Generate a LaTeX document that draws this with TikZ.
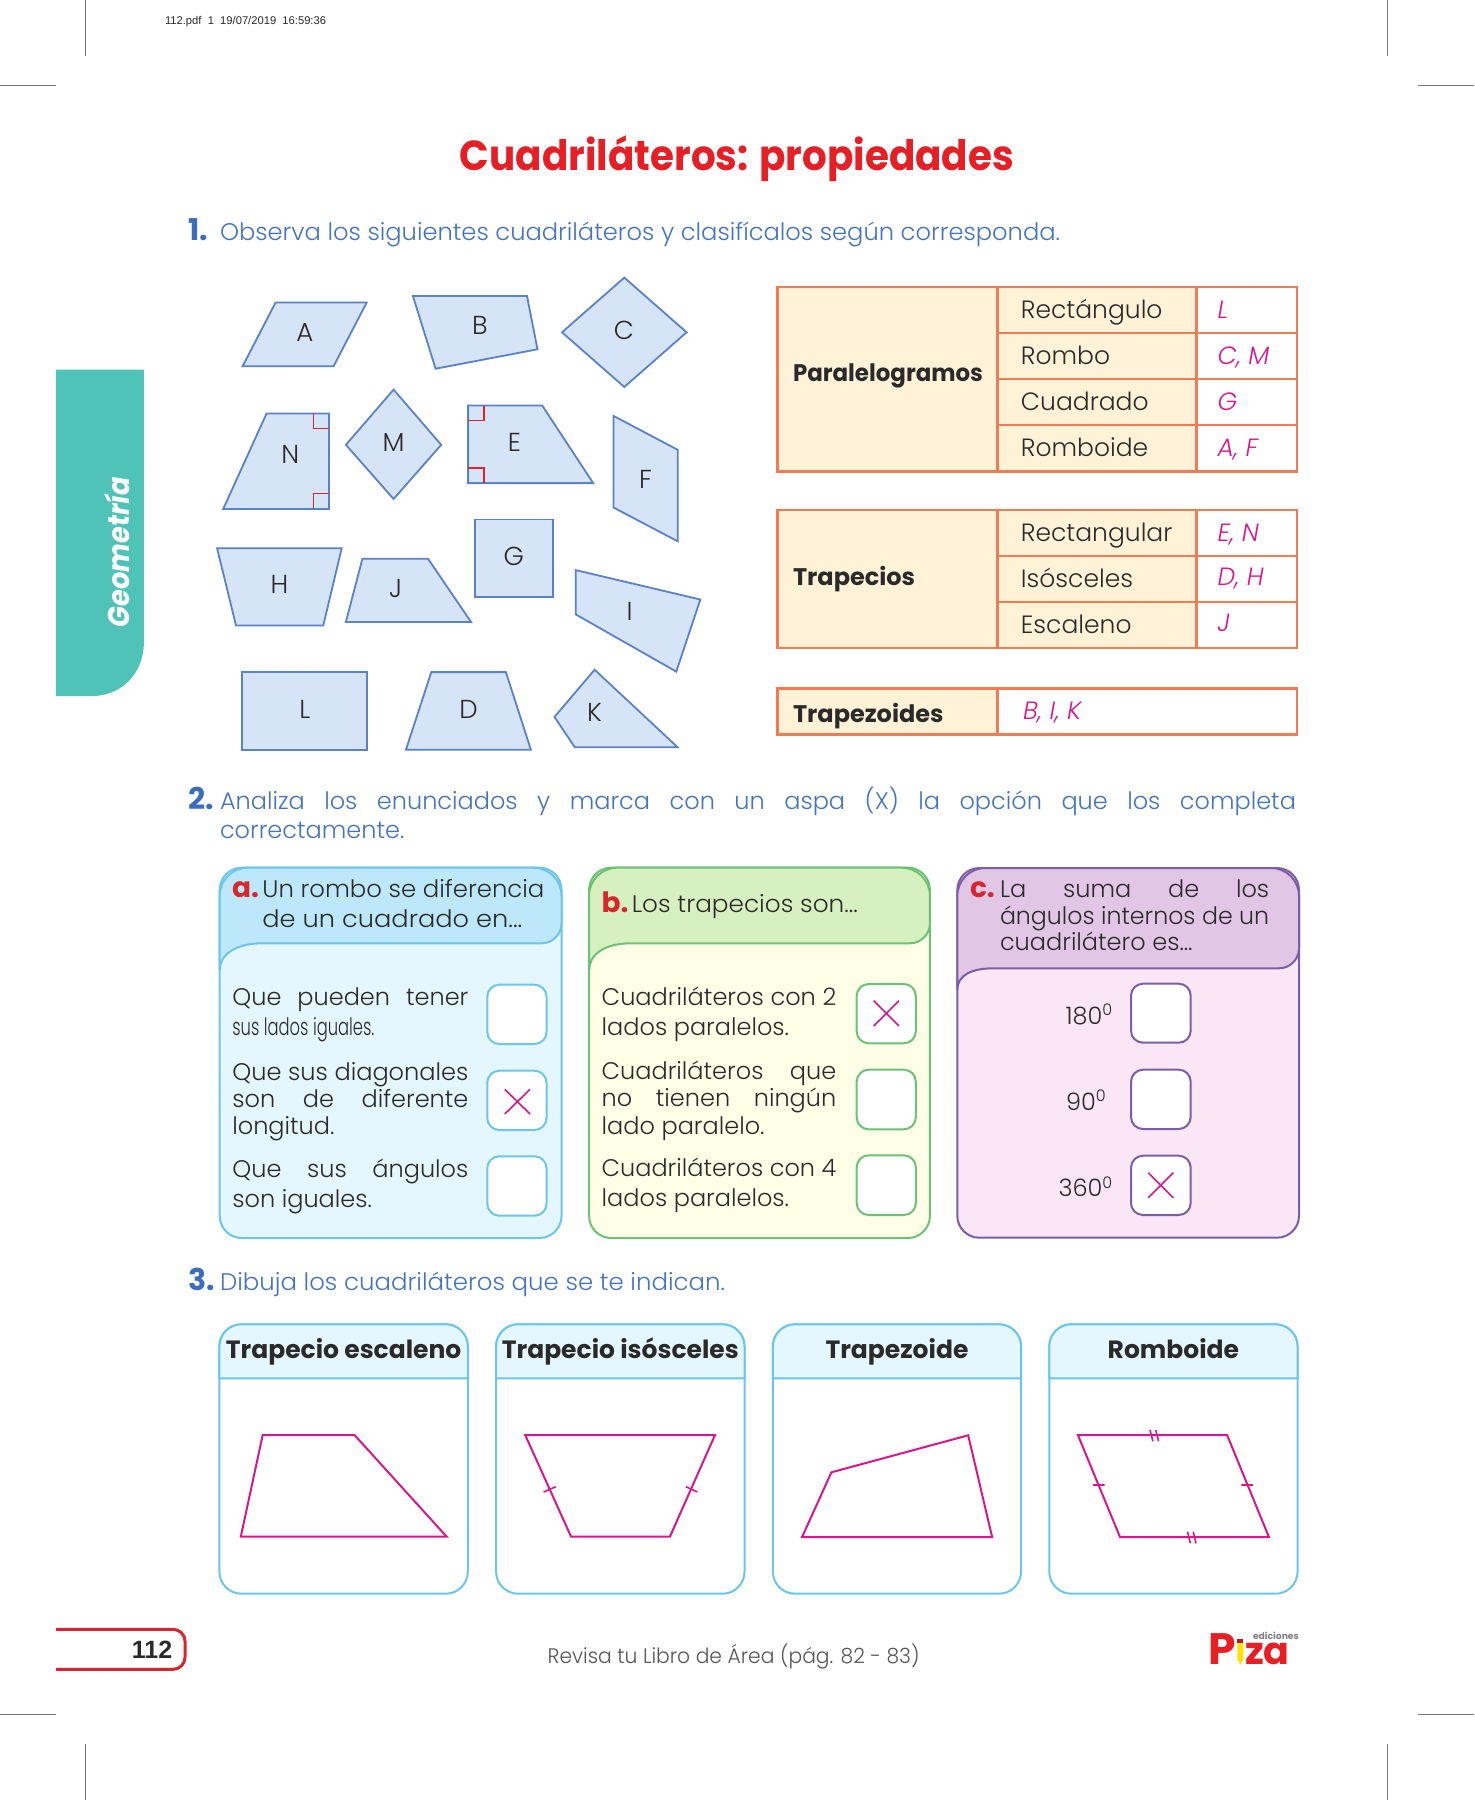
\documentclass[tikz,border=0pt]{standalone}
\usepackage{fontspec}
\usepackage{graphicx}
\setmainfont{Poppins}
\newfontfamily\lt{Poppins Light}[ItalicFont={Poppins Light Italic}]
\newfontfamily\arl{Liberation Sans}
\newcommand{\fs}[1]{\fontsize{#1}{#1}\selectfont}
\newcommand{\fit}[2]{\resizebox{#1pt}{\height}{#2}}
\newcommand{\jb}[2]{\hbox to #1pt{#2}}
\definecolor{teal1}{HTML}{4FC3B8}
\definecolor{shf}{HTML}{D5E4F6}
\definecolor{shd}{HTML}{5B82C4}
\definecolor{redc}{HTML}{D9262E}
\definecolor{titlec}{HTML}{E81E25}
\definecolor{bluet}{HTML}{4474BC}
\definecolor{blueb}{HTML}{3A6EB9}
\definecolor{tabs}{HTML}{EE7D55}
\definecolor{tabf}{HTML}{FFF2D6}
\definecolor{mag}{HTML}{D6188C}
\definecolor{ast}{HTML}{6CC6E8}
\definecolor{ah}{HTML}{BDE8FB}
\definecolor{ab}{HTML}{E4F6FE}
\definecolor{bst}{HTML}{6CC175}
\definecolor{bh}{HTML}{D6F0C0}
\definecolor{bb}{HTML}{FEFFE6}
\definecolor{cst}{HTML}{7B5EA7}
\definecolor{ch}{HTML}{E2C6E6}
\definecolor{cb}{HTML}{FBE6F5}
\definecolor{ink}{HTML}{2A2A2A}
\definecolor{cropc}{HTML}{777777}
\tikzset{
 tx/.style={inner sep=0pt,outer sep=0pt,anchor=base west},
 txc/.style={inner sep=0pt,outer sep=0pt,anchor=base},
 txr/.style={inner sep=0pt,outer sep=0pt,anchor=base east},
 quad/.style={fill=shf,draw=shd,line width=0.9pt,line join=miter},
 redsq/.style={draw=redc,line width=0.8pt},
 let/.style={inner sep=0pt,outer sep=0pt,anchor=center,font=\lt\fs{13},text=ink},
 tabl/.style={draw=tabs,line width=1.1pt},
 ans/.style={tx,font=\lt\itshape\fs{12.5},text=mag},
 row/.style={tx,font=\lt\fs{12.5},text=ink},
 head/.style={tx,font=\bfseries\fs{12},text=ink},
 body/.style={tx,font=\lt\fs{12},text=ink},
 xm/.style={draw=mag,line width=0.8pt},
 draft/.style={draw=mag,line width=1pt,line join=miter},
 card/.style={draw=ast,line width=1pt},
 crop/.style={draw=cropc,line width=0.4pt},
}
\begin{document}
\begin{tikzpicture}[x=0.5pt,y=-0.5pt]
\useasboundingbox (0,0) rectangle (1474,1800);
\fill[white] (0,0) rectangle (1474,1800);
% crop marks
\draw[crop] (85.4,0)--(85.4,56) (1387,0)--(1387,56) (0,85.6)--(56,85.6) (1418,85.6)--(1474,85.6)
 (0,1714)--(56,1714) (1418,1714)--(1474,1714) (85.4,1744)--(85.4,1800) (1387,1744)--(1387,1800);
\node[tx,font=\arl\fs{5.6},text=ink] (slug) at (165,24) {112.pdf\ \ 1\ \ 19/07/2019\ \ 16:59:36};
% title
\node[txc,font=\bfseries\fs{21},text=titlec] (title) at (737,170.6) {\fit{277}{Cuadriláteros: propiedades}};
% tab
\fill[teal1] (56.2,369.6) -- (143.9,369.6) -- (143.9,641.8) .. controls (143.9,675) and (120,696) .. (92,696) -- (56.2,696) -- cycle;
\node[inner sep=0pt,rotate=90,anchor=center,font=\bfseries\itshape\fs{15},text=white] (tabt) at (117,552) {\fit{75}{Geometría}};
% Q1
\node[tx,font=\bfseries\fs{15},text=blueb] (n1) at (188,240) {1.};
\node[tx,font=\lt\fs{12},text=bluet] (q1) at (220,240) {\fit{420}{Observa los siguientes cuadriláteros y clasifícalos según corresponda.}};
% quadrilaterals
\draw[quad] (275.6,302.5)--(366.7,302.5)--(333.6,366.2)--(242.6,366.2)--cycle;
\draw[quad] (412.9,296)--(527,296)--(537.5,349.3)--(435.6,368.7)--cycle;
\draw[quad] (624.3,277.6)--(686.6,332.3)--(624.3,387)--(562,332.3)--cycle;
\draw[quad] (266.6,413.4)--(328.9,413.4)--(328.9,509)--(223.2,509)--cycle;
\draw[redsq] (328.9,428.4)--(313.4,428.4)--(313.4,413.4) (328.9,493.5)--(313.4,493.5)--(313.4,509);
\draw[quad] (393.6,389.6)--(441.2,444.8)--(393.6,499)--(345.9,444.8)--cycle;
\draw[quad] (468.1,405.5)--(542.2,405.5)--(593.2,483.1)--(468.1,483.1)--cycle;
\draw[redsq] (468.1,420.4)--(483.7,420.4)--(483.7,405.5) (468.1,468.2)--(483.7,468.2)--(483.7,483.1);
\draw[quad] (613.5,415.9)--(677.7,449.8)--(677.7,541.3)--(613.5,507.5)--cycle;
\draw[quad] (474.7,519.4)--(553.1,519.4)--(553.1,597)--(474.7,597)--cycle;
\draw[quad] (217.1,548.3)--(341.7,548.3)--(323.3,625.4)--(236,625.4)--cycle;
\draw[quad] (362.4,558.7)--(428,558.7)--(471,621.9)--(345.9,621.9)--cycle;
\draw[quad] (575.7,570.1)--(700.3,599.5)--(676.3,671.6)--(575.7,614.4)--cycle;
\draw[quad] (242.1,672.1)--(367.2,672.1)--(367.2,749.8)--(242.1,749.8)--cycle;
\draw[quad] (431.3,672.1)--(505.9,672.1)--(530.9,749.8)--(405.9,749.8)--cycle;
\draw[quad] (594.6,669.7)--(677.7,747.3)--(574.8,747.3)--(554.5,716.9)--cycle;
\node[let] (lA) at (304.9,332.8) {A};
\node[let] (lB) at (480,325.9) {B};
\node[let] (lC) at (623.9,329.9) {C};
\node[let] (lN) at (290.2,454.7) {N};
\node[let] (lM) at (393.6,442.8) {M};
\node[let] (lE) at (514.4,442.3) {E};
\node[let] (lF) at (645.6,479.1) {F};
\node[let] (lG) at (513.9,556.2) {G};
\node[let] (lH) at (279.4,584.6) {H};
\node[let] (lJ) at (395.5,588) {J};
\node[let] (lI) at (629.5,611.4) {I};
\node[let] (lL) at (304.9,709) {L};
\node[let] (lD) at (468.6,709) {D};
\node[let] (lK) at (594.6,712.9) {K};
% table 1
\fill[tabf] (777.5,287) rectangle (1196.5,471);
\draw[tabl] (777.5,287) rectangle (1296.6,471.5);
\draw[tabl] (997.5,287)--(997.5,471.5) (1196.5,287)--(1196.5,471.5) (997.5,333)--(1296.6,333) (997.5,379)--(1296.6,379) (997.5,425)--(1296.6,425);
\node[head] (t1) at (793,381) {\fit{95}{Paralelogramos}};
\node[row] (r1) at (1020.9,318) {Rectángulo};
\node[row] (r2) at (1020.9,364) {Rombo};
\node[row] (r3) at (1020.9,410) {Cuadrado};
\node[row] (r4) at (1020.9,456) {Romboide};
\node[ans] (a1) at (1217.5,318) {L};
\node[ans] (a2) at (1217.5,364) {C, M};
\node[ans] (a3) at (1217.5,410) {G};
\node[ans] (a4) at (1217.5,456) {A, F};
% table 2
\fill[tabf] (777.5,510) rectangle (1196.5,648);
\draw[tabl] (777.5,510) rectangle (1296.6,648);
\draw[tabl] (997.5,510)--(997.5,648) (1196.5,510)--(1196.5,648) (997.5,556)--(1296.6,556) (997.5,602)--(1296.6,602);
\node[head] (t2) at (793,585) {Trapecios};
\node[row] (r5) at (1020.9,541) {Rectangular};
\node[row] (r6) at (1020.9,587) {Isósceles};
\node[row] (r7) at (1020.9,633) {Escaleno};
\node[ans] (a5) at (1217.5,541) {E, N};
\node[ans] (a6) at (1217.5,585) {D, H};
\node[ans] (a7) at (1217.5,631) {J};
% table 3
\fill[tabf] (777.5,688.5) rectangle (997.5,734.5);
\draw[tabl] (777.5,688.5) rectangle (1296.6,734.5);
\draw[tabl] (997.5,688.5)--(997.5,734.5);
\node[head] (t3) at (793,722) {Trapezoides};
\node[ans] (a8) at (1023,719) {B, I, K};
% Q2
\node[tx,font=\bfseries\fs{15},text=blueb] (n2) at (188,809) {2.};
\node[tx,font=\lt\fs{12},text=bluet] (q2a) at (220,809) {\jb{538}{Analiza los enunciados y marca con un aspa (X) la opción que los completa}};
\node[tx,font=\lt\fs{12},text=bluet] (q2b) at (220,838) {correctamente.};
% panel a
\fill[ab,draw=ast,line width=1pt,rounded corners=11pt] (219.7,867.7) rectangle (561.5,1238);
\draw[fill=ah,draw=ast,line width=1pt] (219.7,970) [rounded corners=14pt]-- (219.7,867.7) -- (561.5,867.7) [rounded corners=10pt]-- (561.5,943.3) [sharp corners]-- (262.4,943.3) .. controls (235,943.3) and (219.7,955) .. (219.7,970);
\node[tx,font=\bfseries\fs{14},text=redc] (la) at (232,897.7) {a.};
\node[body] (pa1) at (262.4,897.7) {\fit{141}{Un rombo se diferencia}};
\node[body] (pa2) at (262.4,927.7) {\fit{130}{de un cuadrado en...}};
\node[body] (a11) at (232.4,1005.7) {\jb{118}{Que pueden tener}};
\node[body] (a12) at (232.4,1035.7) {\fit{71}{sus lados iguales.}};
\node[body] (a21) at (232.4,1080) {\fit{118}{Que sus diagonales}};
\node[body] (a22) at (232.4,1107) {\jb{118}{son de diferente}};
\node[body] (a23) at (232.4,1134) {longitud.};
\node[body] (a31) at (232.4,1177) {\jb{118}{Que sus ángulos}};
\node[body] (a32) at (232.4,1207) {son iguales.};
\foreach \ya/\yb in {984.7/1044,1070.7/1130,1156.3/1215.7}
  \draw[fill=white,draw=ast,line width=1pt,rounded corners=6pt] (487.3,\ya) rectangle (546.5,\yb);
\draw[xm] (504.8,1089.3)--(530,1114) (530,1089.3)--(504.8,1114);
% panel b
\fill[bb,draw=bst,line width=1pt,rounded corners=11pt] (589.1,867.7) rectangle (929.9,1238);
\draw[fill=bh,draw=bst,line width=1pt] (589.1,970) [rounded corners=14pt]-- (589.1,867.7) -- (929.9,867.7) [rounded corners=10pt]-- (929.9,943.3) [sharp corners]-- (630.8,943.3) .. controls (604,943.3) and (589.1,955) .. (589.1,970);
\node[tx,font=\bfseries\fs{14},text=redc] (lb) at (601.7,912.7) {b.};
\node[body] (pb1) at (631.8,912.7) {\fit{113}{Los trapecios son...}};
\node[body] (b11) at (601.7,1005) {\fit{117.3}{Cuadriláteros con 2}};
\node[body] (b12) at (601.7,1035.7) {lados paralelos.};
\node[body] (b21) at (601.7,1079.3) {\jb{117.3}{Cuadriláteros que}};
\node[body] (b22) at (601.7,1106.7) {\jb{117.3}{no tienen ningún}};
\node[body] (b23) at (601.7,1134) {lado paralelo.};
\node[body] (b31) at (601.7,1176.7) {\fit{117.3}{Cuadriláteros con 4}};
\node[body] (b32) at (601.7,1206.7) {lados paralelos.};
\foreach \ya/\yb in {984/1043.3,1069.7/1129.3,1155.3/1215}
  \draw[fill=white,draw=bst,line width=1pt,rounded corners=6pt] (856.7,\ya) rectangle (915.8,\yb);
\draw[xm] (873.7,1000.7)--(898.9,1026) (898.9,1000.7)--(873.7,1026);
% panel c
\fill[cb,draw=cst,line width=1pt,rounded corners=11pt] (957.3,868) rectangle (1299,1237.7);
\draw[fill=ch,draw=cst,line width=1pt] (957.3,990) [rounded corners=14pt]-- (957.3,868) -- (1299,868) [rounded corners=10pt]-- (1299,968.3) [sharp corners]-- (993.3,968.3) .. controls (972,968.3) and (957.3,975) .. (957.3,990);
\node[tx,font=\bfseries\fs{14},text=redc] (lc) at (970,897.3) {c.};
\node[body] (pc1) at (1000,897.3) {\jb{134.6}{La suma de los}};
\node[body] (pc2) at (1000,924) {\fit{134.6}{ángulos internos de un}};
\node[body] (pc3) at (1000,950.7) {cuadrilátero es...};
\node[txr,font=\lt\fs{12},text=ink] (c1) at (1113.3,1024.3) {180\textsuperscript{0}};
\node[txr,font=\lt\fs{12},text=ink] (c2) at (1106.7,1110) {90\textsuperscript{0}};
\node[txr,font=\lt\fs{12},text=ink] (c3) at (1113.3,1196.7) {360\textsuperscript{0}};
\foreach \ya/\yb in {983.7/1042.7,1069.7/1129,1155.7/1215}
  \draw[fill=white,draw=cst,line width=1pt,rounded corners=6pt] (1131,\ya) rectangle (1190.7,\yb);
\draw[xm] (1148.3,1172.7)--(1173.3,1197.7) (1173.3,1172.7)--(1148.3,1197.7);
% Q3
\node[tx,font=\bfseries\fs{15},text=blueb] (n3) at (188,1290) {3.};
\node[tx,font=\lt\fs{12},text=bluet] (q3) at (220,1290) {\fit{252.5}{Dibuja los cuadriláteros que se te indican.}};
% cards
\foreach \xa/\xb/\nm/\ti in {219.4/467.8/ca/Trapecio escaleno,496.1/744.5/cb/Trapecio isósceles,772.9/1021/cc/Trapezoide,1049.3/1297.5/cd/Romboide}{
  \draw[card,fill=white,rounded corners=11pt] (\xa,1324.3) rectangle (\xb,1593.7);
  \draw[card,fill=ab] (\xa,1378.3) [rounded corners=11pt]-- (\xa,1324.3) -- (\xb,1324.3) [sharp corners]-- (\xb,1378.3) -- cycle;
  \node[txc,font=\bfseries\fs{12.5},text=ink] (\nm) at ({(\xa+\xb)/2},1358.3) {\ti};
}
\draw[draft] (262.7,1435)--(354.5,1435)--(446.7,1536.7)--(240.8,1536.7)--cycle;
\draw[draft] (525.2,1435)--(715,1435)--(669.9,1536.7)--(571.1,1536.7)--cycle;
\draw[xm] (543.6,1492)--(555.8,1486.7) (685.9,1486.7)--(697.4,1492);
\draw[draft] (831.4,1472.3)--(968.2,1435.3)--(992.1,1537)--(802.1,1537)--cycle;
\draw[draft] (1077.9,1435)--(1227.1,1435)--(1268.9,1537)--(1120,1537)--cycle;
\draw[xm] (1093.2,1485)--(1104.6,1485) (1241.4,1485)--(1252.9,1485)
 (1150,1430)--(1152.9,1441.3) (1155.7,1430)--(1158.6,1441.3)
 (1187.5,1531.7)--(1190.4,1543.3) (1193.2,1531.7)--(1196,1543.3);
% footer
\draw[draw=redc,line width=1.5pt,rounded corners=6pt,fill=white] (56,1629.3) -- (185,1629.3) -- (185,1669.3) -- (56,1669.3);
\node[txr,font=\arl\bfseries\fs{12.5},text=ink] (pg) at (172.3,1658.7) {112};
\node[tx,font=\lt\fs{10.5},text=ink!80] (rev) at (547.6,1663.5) {\fit{186}{Revisa tu Libro de Área (pág. 82 - 83)}};
% logo
\node[tx,font=\bfseries\fs{22},text=titlec] (lgp) at (1208,1664.3) {P};
\node[tx,font=\bfseries\fs{19},text=titlec] (lgz) at (1245,1664.3) {za};
\node[tx,font=\bfseries\fs{4.6},text=ink!60] (lge) at (1253,1639.3) {ediciones};
\fill[titlec!80!black] (1237.3,1639) rectangle (1243.3,1643);
\fill[yellow!85!orange] (1237.3,1643) -- (1243.3,1643) -- (1243.3,1659) -- (1240.3,1665) -- (1237.3,1659) -- cycle;
\end{tikzpicture}
\end{document}
